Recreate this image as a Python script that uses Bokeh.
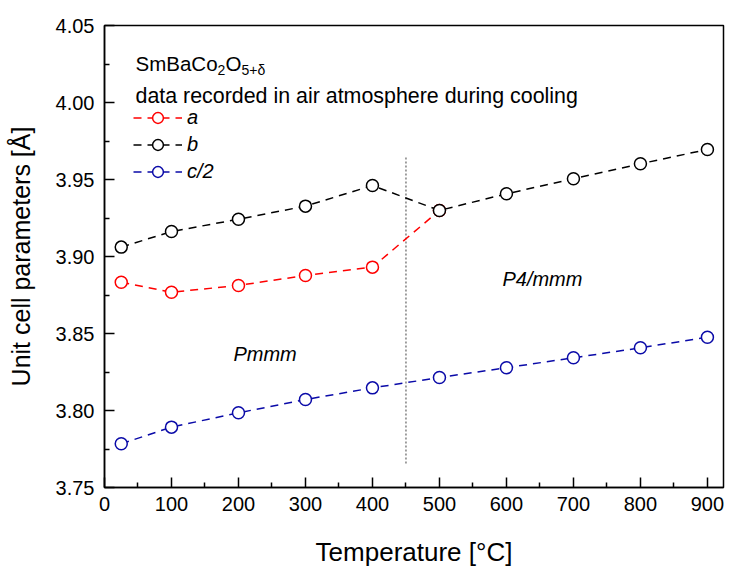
from bokeh.plotting import figure
from bokeh.models import Range1d, Label, Legend, LegendItem, FixedTicker, PrintfTickFormatter
from bokeh.embed import file_html
from bokeh.resources import INLINE

# ---- data ----
temps_a = [25, 100, 200, 300, 400, 500]
a_vals = [3.8833, 3.8768, 3.8812, 3.8877, 3.8931, 3.9299]
temps_b = [25, 100, 200, 300, 400, 500, 600, 700, 800, 900]
b_vals = [3.9061, 3.9162, 3.9242, 3.9327, 3.9461, 3.9299, 3.9407, 3.9505, 3.9602, 3.9695]
temps_c = [25, 100, 200, 300, 400, 500, 600, 700, 800, 900]
c_half_vals = [3.7784, 3.7892, 3.7985, 3.8071, 3.8147, 3.8214, 3.8278, 3.8342, 3.8407, 3.8476]
boundary_x = [450]
boundary_y0 = [3.7656]
boundary_y1 = [3.9656]
x_ticks = [0, 100, 200, 300, 400, 500, 600, 700, 800, 900]
x_minor = [50, 150, 250, 350, 450, 550, 650, 750, 850]
y_ticks = [3.75, 3.80, 3.85, 3.90, 3.95, 4.00, 4.05]
y_minor = [3.775, 3.825, 3.875, 3.925, 3.975, 4.025]

FONT = "Liberation Sans"
RED = "#FF0000"
BLACK = "#000000"
BLUE = "#0A0AA8"

p = figure(width=729, height=574, output_backend="svg", toolbar_location=None,
           x_range=Range1d(0, 924), y_range=Range1d(3.75, 4.05),
           min_border_left=104, min_border_right=6, min_border_top=25, min_border_bottom=87)
p.xgrid.visible = False
p.ygrid.visible = False
p.outline_line_color = "black"
p.outline_line_width = 1.5
p.background_fill_color = "white"
p.border_fill_color = "white"

for ax in (p.xaxis[0], p.yaxis[0]):
    ax.axis_line_width = 1.5
    ax.major_tick_line_width = 1.5
    ax.minor_tick_line_width = 1.5
    ax.major_tick_in = 10
    ax.major_tick_out = 0
    ax.minor_tick_in = 5
    ax.minor_tick_out = 0
    ax.major_label_text_font = FONT
    ax.major_label_text_font_size = "20px"
    ax.major_label_text_color = "black"
    ax.axis_label_text_font = FONT
    ax.axis_label_text_font_style = "normal"
    ax.axis_label_text_color = "black"

p.xaxis.ticker = FixedTicker(ticks=x_ticks, minor_ticks=x_minor)
p.yaxis.ticker = FixedTicker(ticks=y_ticks, minor_ticks=y_minor)
p.yaxis.formatter = PrintfTickFormatter(format="%.2f")
p.xaxis.axis_label = "Temperature [°C]"
p.yaxis.axis_label = "Unit cell parameters [Å]"
p.xaxis.axis_label_text_font_size = "26px"
p.yaxis.axis_label_text_font_size = "25px"
p.xaxis.major_label_standoff = 9
p.yaxis.major_label_standoff = 10
p.xaxis.axis_label_standoff = 23
p.yaxis.axis_label_standoff = 18

# phase boundary
p.segment(x0=boundary_x, y0=boundary_y0, x1=boundary_x, y1=boundary_y1,
          line_color="#808080", line_width=1.5, line_dash="2 2")

DASH = "8 6"
lc = p.line(temps_c, c_half_vals, line_color=BLUE, line_width=1.5, line_dash=DASH)
sc = p.scatter(temps_c, c_half_vals, marker="circle", size=12, line_color=BLUE,
               fill_color="white", line_width=1.5)
la = p.line(temps_a, a_vals, line_color=RED, line_width=1.5, line_dash=DASH)
sa = p.scatter(temps_a, a_vals, marker="circle", size=12, line_color=RED,
               fill_color="white", line_width=1.5)
lb = p.line(temps_b, b_vals, line_color=BLACK, line_width=1.5, line_dash=DASH)
sb = p.scatter(temps_b, b_vals, marker="circle", size=12, line_color=BLACK,
               fill_color="white", line_width=1.5)

legend = Legend(items=[LegendItem(label="a", renderers=[la, sa]),
                       LegendItem(label="b", renderers=[lb, sb]),
                       LegendItem(label="c/2", renderers=[lc, sc])],
                location=(29, 302), background_fill_alpha=0, border_line_alpha=0,
                label_text_font=FONT, label_text_font_size="20px",
                label_text_font_style="italic", label_text_color="black",
                glyph_width=49, glyph_height=27, label_height=27, spacing=0,
                padding=0, margin=0, label_standoff=5)
p.add_layout(legend)

# title texts
tx = 46.3
def lab(text, x, y, size, xoff=0, style="normal"):
    p.add_layout(Label(x=x, y=y, x_offset=xoff, text=text, text_font=FONT,
                       text_font_size=size, text_font_style=style,
                       text_baseline="alphabetic", text_align="left", text_color="black"))

lab("SmBaCo", tx, 4.0253, "20.5px")
lab("2", tx, 4.0208, "14px", xoff=82)
lab("O", tx, 4.0253, "20.5px", xoff=90)
lab("5+δ", tx, 4.0208, "14px", xoff=106)
lab("data recorded in air atmosphere during cooling", tx, 4.0045, "21.4px")
lab("Pmmm", 192.5, 3.837, "20px", style="italic")
lab("P4/mmm", 594, 3.8851, "20px", style="italic")

open("out.html", "w").write(file_html(p, INLINE))
